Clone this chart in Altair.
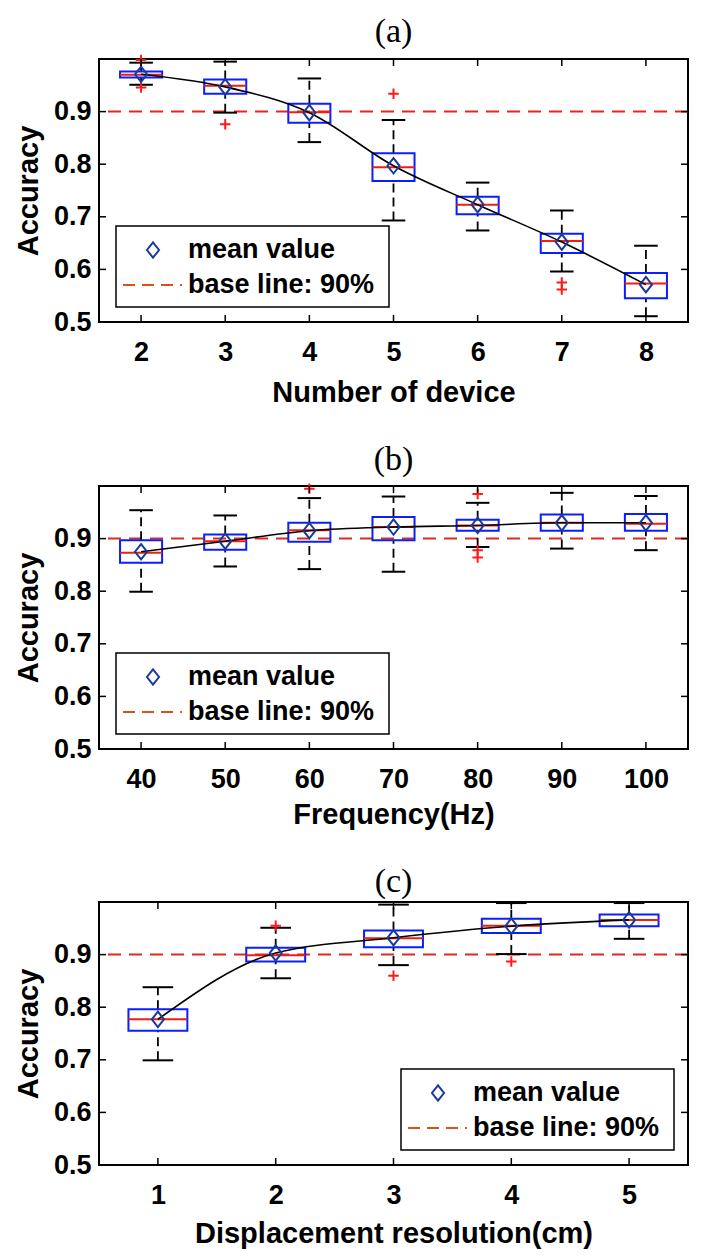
import altair as alt
import pandas as pd

# ---------------- data ----------------
BASELINE = 0.9
Y_TICKS = [0.5, 0.6, 0.7, 0.8, 0.9]

# (a) Number of device
a_pos = [2, 3, 4, 5, 6, 7, 8]
a_q1 = [0.965, 0.934, 0.879, 0.768, 0.705, 0.631, 0.545]
a_q3 = [0.976, 0.961, 0.915, 0.821, 0.738, 0.668, 0.593]
a_med = [0.970, 0.949, 0.899, 0.794, 0.723, 0.654, 0.573]
a_lo = [0.951, 0.898, 0.842, 0.693, 0.674, 0.596, 0.511]
a_hi = [0.993, 0.995, 0.963, 0.884, 0.765, 0.712, 0.645]
a_mean = [0.971, 0.947, 0.898, 0.797, 0.723, 0.652, 0.571]
a_out_x = [2, 2, 3, 5, 7, 7]
a_out_y = [0.998, 0.946, 0.876, 0.934, 0.575, 0.562]

# (b) Frequency (Hz)
b_pos = [40, 50, 60, 70, 80, 90, 100]
b_q1 = [0.854, 0.879, 0.894, 0.897, 0.915, 0.915, 0.915]
b_q3 = [0.897, 0.908, 0.930, 0.941, 0.936, 0.946, 0.947]
b_med = [0.873, 0.895, 0.916, 0.922, 0.925, 0.930, 0.928]
b_lo = [0.799, 0.847, 0.842, 0.837, 0.884, 0.881, 0.878]
b_hi = [0.954, 0.944, 0.977, 0.980, 0.968, 0.987, 0.981]
b_mean = [0.875, 0.895, 0.915, 0.922, 0.925, 0.930, 0.930]
b_out_x = [60, 80, 80, 80]
b_out_y = [0.995, 0.985, 0.878, 0.864]

# (c) Displacement resolution (cm)
c_pos = [1, 2, 3, 4, 5]
c_q1 = [0.755, 0.887, 0.914, 0.941, 0.954]
c_q3 = [0.796, 0.913, 0.946, 0.968, 0.976]
c_med = [0.777, 0.899, 0.931, 0.955, 0.966]
c_lo = [0.699, 0.855, 0.880, 0.901, 0.930]
c_hi = [0.838, 0.951, 0.995, 0.998, 0.998]
c_mean = [0.777, 0.903, 0.932, 0.954, 0.966]
c_out_x = [2, 3, 4]
c_out_y = [0.955, 0.860, 0.887]

# ---------------- styling ----------------
W, H = 589, 263
SANS = "Liberation Sans"
SERIF = "Liberation Serif"
BOX_BLUE = "#0a1eff"
MED_RED = "#f01e10"
OUT_RED = "#ff1a1a"
BASE_RED = "#e3261f"
LEG_ORANGE = "#d95319"
MEAN_NAVY = "#1a3a9a"
DIAMOND = "M0,-1.15L0.9,0L0,1.15L-0.9,0Z"
PLUS = "M-1,0L1,0M0,-1L0,1"


def panel(title, xlabel, pos, q1, q3, med, lo, hi, mean, out_x, out_y,
          xdomain, box_hw, cap_hw, legend_left, xtitle_pad):
    df = pd.DataFrame(dict(pos=pos, q1=q1, q3=q3, med=med, lo=lo, hi=hi, mean=mean))
    df["xl"] = df["pos"] - box_hw
    df["xr"] = df["pos"] + box_hw
    df["cl"] = df["pos"] - cap_hw
    df["cr"] = df["pos"] + cap_hw
    out_df = pd.DataFrame(dict(x=out_x, y=out_y))
    xt_df = pd.DataFrame(dict(v=pos))
    yt_df = pd.DataFrame(dict(v=Y_TICKS))
    base_df = pd.DataFrame(dict(v=[BASELINE]))
    one = pd.DataFrame(dict(k=[0]))

    xs = alt.Scale(domain=xdomain, nice=False, zero=False)
    ys = alt.Scale(domain=[0.5, 1.0], nice=False, zero=False)
    xaxis = alt.Axis(values=pos, format="d", ticks=False, domain=False, grid=False,
                     labelFont=SANS, labelFontSize=27, labelFontWeight="bold",
                     labelColor="black", labelPadding=17, labelFlush=False,
                     title=xlabel, titleFont=SANS, titleFontSize=29,
                     titleFontWeight="bold", titleColor="black", titlePadding=xtitle_pad)
    yaxis = alt.Axis(values=Y_TICKS, format=".1f", ticks=False, domain=False, grid=False,
                     labelFont=SANS, labelFontSize=27, labelFontWeight="bold",
                     labelColor="black", labelPadding=8, labelFlush=False,
                     title="Accuracy", titleFont=SANS, titleFontSize=29,
                     titleFontWeight="bold", titleColor="black", titlePadding=10)

    def X(f):
        return alt.X(f, type="quantitative", scale=xs, axis=xaxis)

    def Y(f):
        return alt.Y(f, type="quantitative", scale=ys, axis=yaxis)

    b = alt.Chart(df)
    layers = [
        alt.Chart(base_df).mark_rule(color=BASE_RED, strokeWidth=2, strokeDash=[13, 8]).encode(y=Y("v")),
        b.mark_rule(color="black", strokeWidth=1.8, strokeDash=[9, 5]).encode(x=X("pos"), y=Y("q3"), y2=alt.Y2("hi")),
        b.mark_rule(color="black", strokeWidth=1.8, strokeDash=[9, 5]).encode(x=X("pos"), y=Y("lo"), y2=alt.Y2("q1")),
        b.mark_rule(color="black", strokeWidth=2).encode(x=X("cl"), x2=alt.X2("cr"), y=Y("hi")),
        b.mark_rule(color="black", strokeWidth=2).encode(x=X("cl"), x2=alt.X2("cr"), y=Y("lo")),
        b.mark_rect(filled=False, color=BOX_BLUE, strokeWidth=2).encode(x=X("xl"), x2=alt.X2("xr"), y=Y("q1"), y2=alt.Y2("q3")),
        b.mark_rule(color=MED_RED, strokeWidth=2).encode(x=X("xl"), x2=alt.X2("xr"), y=Y("med")),
        alt.Chart(out_df).mark_point(shape=PLUS, size=110, color=OUT_RED, filled=False, strokeWidth=2, opacity=1).encode(x=X("x"), y=Y("y")),
        b.mark_line(color="black", strokeWidth=1.6, interpolate="monotone").encode(x=X("pos"), y=Y("mean")),
        b.mark_point(shape=DIAMOND, size=180, color=MEAN_NAVY, filled=False, strokeWidth=2, opacity=1).encode(x=X("pos"), y=Y("mean")),
        # inward tick marks on all four sides
        alt.Chart(xt_df).mark_rule(color="black", strokeWidth=1.5).encode(x=X("v"), y=alt.value(H), y2=alt.value(H - 7)),
        alt.Chart(xt_df).mark_rule(color="black", strokeWidth=1.5).encode(x=X("v"), y=alt.value(0), y2=alt.value(7)),
        alt.Chart(yt_df).mark_rule(color="black", strokeWidth=1.5).encode(y=Y("v"), x=alt.value(0), x2=alt.value(7)),
        alt.Chart(yt_df).mark_rule(color="black", strokeWidth=1.5).encode(y=Y("v"), x=alt.value(W), x2=alt.value(W - 7)),
    ]
    L = legend_left
    leg = alt.Chart(one)
    layers += [
        leg.mark_rect(fill="white", stroke="black", strokeWidth=1.5).encode(
            x=alt.value(L), x2=alt.value(L + 273), y=alt.value(167), y2=alt.value(248)),
        leg.mark_point(shape=DIAMOND, size=180, color=MEAN_NAVY, filled=False, strokeWidth=2, opacity=1).encode(
            x=alt.value(L + 37), y=alt.value(191)),
        leg.mark_text(text="mean value", align="left", baseline="middle", font=SANS, fontSize=27,
                      fontWeight="bold", color="black").encode(x=alt.value(L + 72), y=alt.value(191)),
        leg.mark_rule(color=LEG_ORANGE, strokeWidth=2, strokeDash=[12, 7]).encode(
            x=alt.value(L + 7), x2=alt.value(L + 66), y=alt.value(226)),
        leg.mark_text(text="base line: 90%", align="left", baseline="middle", font=SANS, fontSize=27,
                      fontWeight="bold", color="black").encode(x=alt.value(L + 72), y=alt.value(226)),
    ]
    return alt.layer(*layers).properties(
        width=W, height=H,
        title=alt.TitleParams(text=title, font=SERIF, fontSize=34, fontWeight="normal",
                              color="black", anchor="middle", frame="group", offset=2),
    )


pa = panel("(a)", "Number of device", a_pos, a_q1, a_q3, a_med, a_lo, a_hi, a_mean,
           a_out_x, a_out_y, [1.5, 8.5], 0.25, 0.14, 17, 13)
pb = panel("(b)", "Frequency(Hz)", b_pos, b_q1, b_q3, b_med, b_lo, b_hi, b_mean,
           b_out_x, b_out_y, [35, 105], 2.5, 1.4, 17, 8)
pc = panel("(c)", "Displacement resolution(cm)", c_pos, c_q1, c_q3, c_med, c_lo, c_hi, c_mean,
           c_out_x, c_out_y, [0.5, 5.5], 0.25, 0.13, 302, 11)

chart = alt.vconcat(pa, pb, pc, spacing=34).configure_view(
    stroke="black", strokeWidth=2
).properties(background="white")

chart.save("out.html", embed_options={"renderer": "svg", "actions": False})
